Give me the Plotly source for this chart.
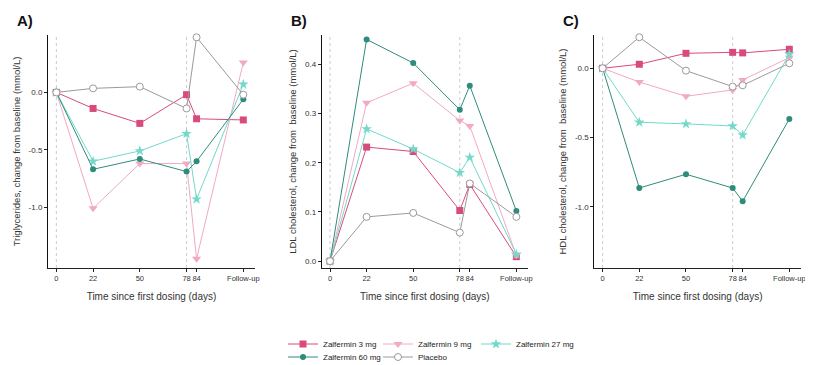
import plotly.graph_objects as go

# ---- data ----
days = [0, 22, 50, 78, 84, 112]          # 112 = follow-up position
tick_vals = [0, 22, 50, 78, 84, 112]
tick_text = ["0", "22", "50", "78", "84", "Follow-up"]
groups = ["Zalfermin 3 mg", "Zalfermin 9 mg", "Zalfermin 27 mg", "Zalfermin 60 mg", "Placebo"]

tg_3 = [0, -0.14, -0.27, -0.02, -0.23, -0.24]
tg_9 = [0, -1.01, -0.62, -0.62, -1.45, 0.26]
tg_27 = [0, -0.60, -0.51, -0.36, -0.93, 0.07]
tg_60 = [0, -0.67, -0.58, -0.69, -0.60, -0.06]
tg_pl = [0, 0.035, 0.05, -0.14, 0.48, -0.02]

ldl_3 = [0, 0.232, 0.223, 0.103, 0.156, 0.009]
ldl_9 = [0, 0.322, 0.362, 0.286, 0.275, 0.012]
ldl_27 = [0, 0.269, 0.228, 0.180, 0.211, 0.014]
ldl_60 = [0, 0.451, 0.403, 0.308, 0.357, 0.102]
ldl_pl = [0, 0.090, 0.098, 0.058, 0.158, 0.090]

hdl_3 = [0, 0.029, 0.108, 0.115, 0.111, 0.137]
hdl_9 = [0, -0.099, -0.202, -0.156, -0.084, 0.077]
hdl_27 = [0, -0.389, -0.401, -0.416, -0.481, 0.101]
hdl_60 = [0, -0.863, -0.764, -0.863, -0.959, -0.365]
hdl_pl = [0, 0.224, -0.017, -0.132, -0.123, 0.036]

panels = [
    ("A)", "Triglycerides, change from baseline (mmol/L)", [tg_3, tg_9, tg_27, tg_60, tg_pl],
     [-1.53, 0.50], [-1.0, -0.5, 0.0], ["-1.0", "-0.5", "0.0"]),
    ("B)", "LDL cholesterol, change from  baseline (mmol/L)", [ldl_3, ldl_9, ldl_27, ldl_60, ldl_pl],
     [-0.014, 0.46], [0, 0.1, 0.2, 0.3, 0.4], ["0.0", "0.1", "0.2", "0.3", "0.4"]),
    ("C)", "HDL cholesterol, change from  baseline (mmol/L)", [hdl_3, hdl_9, hdl_27, hdl_60, hdl_pl],
     [-1.44, 0.24], [-1.0, -0.5, 0.0], ["-1.0", "-0.5", "0.0"]),
]

colors = ["#d84b7f", "#f2a9c2", "#72d9cb", "#2f8c7c", "#9a9a9a"]
symbols = ["square", "triangle-down", "star", "circle", "circle"]
msizes = [7, 8, 8, 6, 7]

# page is rendered with the browser's default 8px body margin;
# figure is made taller than the window so legends never push margins
OFF = 8
W, H = 813 - OFF, 400
def px(xp):
    return (xp - OFF) / W
def py(yp):
    return 1 - (yp - OFF) / H

xdoms = [(48, 255), (321.7, 528), (594.3, 801)]
ytop, ybot = 35, 268
leg_pos = [(285, 344), (380, 344), (478, 344), (285, 357), (380, 357)]
leg_ids = ["legend", "legend2", "legend3", "legend4", "legend5"]

fig = go.Figure()
FONT = "Liberation Sans, Arial, sans-serif"

for p, (letter, ytitle, series, yr, yt, ytt) in enumerate(panels):
    xa = "x" if p == 0 else f"x{p+1}"
    ya = "y" if p == 0 else f"y{p+1}"
    for i, (vals, name) in enumerate(zip(series, groups)):
        is_pl = name == "Placebo"
        fig.add_trace(go.Scatter(
            x=days, y=vals, mode="lines+markers", name=name,
            xaxis=xa, yaxis=ya,
            line=dict(color=colors[i], width=1),
            marker=dict(symbol=symbols[i], size=msizes[i],
                        color="white" if is_pl else colors[i],
                        line=dict(color=colors[i], width=1 if is_pl else 0)),
            showlegend=(p == 0),
            legend=leg_ids[i],
            cliponaxis=False,
        ))
    axkey = "xaxis" if p == 0 else f"xaxis{p+1}"
    aykey = "yaxis" if p == 0 else f"yaxis{p+1}"
    x0, x1 = xdoms[p]
    fig.update_layout(**{
        axkey: dict(domain=[px(x0), px(x1)], range=[-5, 119], anchor=ya, automargin=False,
                    tickvals=tick_vals, ticktext=tick_text, tickangle=0,
                    showgrid=False, zeroline=False, showline=True,
                    linecolor="#222", linewidth=1, ticks="outside", ticklen=3,
                    tickcolor="#222", tickfont=dict(size=7.5, color="#333", family=FONT),
                    title=dict(text="Time since first dosing (days)",
                               font=dict(size=10, color="#333", family=FONT), standoff=10)),
        aykey: dict(domain=[py(ybot), py(ytop)], range=yr, anchor=xa, automargin=False,
                    tickvals=yt, ticktext=ytt,
                    showgrid=False, zeroline=False, showline=True,
                    linecolor="#111", linewidth=1, ticks="outside", ticklen=3,
                    tickcolor="#222", tickfont=dict(size=8, color="#333", family=FONT),
                    title=dict(text=ytitle, font=dict(size=9.5, color="#333", family=FONT),
                               standoff=6)),
    })
    for xv in (0, 78):
        fig.add_shape(type="line", xref=xa, yref=f"{ya} domain", x0=xv, x1=xv, y0=0, y1=1,
                      line=dict(color="#cccccc", width=1, dash="dot"), layer="below")
    fig.add_annotation(text=f"<b>{letter}</b>", xref="paper", yref="paper",
                       x=px(x0 - 33), y=py(20), xanchor="left", yanchor="middle",
                       showarrow=False, font=dict(size=15, color="#111", family=FONT))

leg_layout = {}
for lid, (lx, ly) in zip(leg_ids, leg_pos):
    leg_layout[lid] = dict(orientation="h", xanchor="left", yanchor="middle",
                           x=px(lx - 2), y=py(ly), bgcolor="rgba(0,0,0,0)",
                           font=dict(size=8, color="#222", family=FONT),
                           itemwidth=30, borderwidth=0)

fig.update_layout(
    width=W, height=H, margin=dict(l=0, r=0, t=0, b=0),
    plot_bgcolor="white", paper_bgcolor="white",
    **leg_layout,
)

fig.write_html("out.html")
